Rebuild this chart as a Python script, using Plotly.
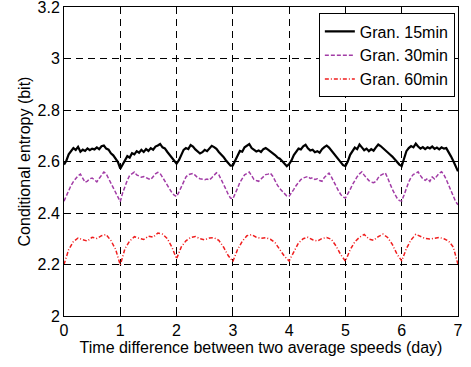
import numpy as np
import plotly.graph_objects as go

# Conditional entropy (bit) vs. time difference (day)
gran15 = [
    2.588, 2.603, 2.628, 2.641, 2.652, 2.645, 2.657, 2.638, 2.646, 2.641, 2.651, 2.644,
    2.650, 2.647, 2.655, 2.648, 2.659, 2.662, 2.650, 2.646, 2.632, 2.624, 2.611, 2.598,
    2.572, 2.588, 2.603, 2.621, 2.615, 2.632, 2.628, 2.640, 2.634, 2.645, 2.637, 2.648,
    2.641, 2.652, 2.646, 2.658, 2.662, 2.668, 2.655, 2.651, 2.638, 2.626, 2.612, 2.601,
    2.592, 2.605, 2.628, 2.645, 2.652, 2.648, 2.664, 2.658, 2.647, 2.639, 2.631, 2.636,
    2.645, 2.640, 2.653, 2.661, 2.656, 2.649, 2.637, 2.629, 2.618, 2.605, 2.596, 2.584,
    2.585, 2.601, 2.622, 2.641, 2.638, 2.655, 2.661, 2.668, 2.652, 2.646, 2.639, 2.643,
    2.637, 2.648, 2.652, 2.646, 2.640, 2.633, 2.625, 2.616, 2.611, 2.602, 2.592, 2.582,
    2.590, 2.604, 2.625, 2.638, 2.650, 2.647, 2.659, 2.665, 2.651, 2.643, 2.646, 2.636,
    2.640, 2.634, 2.648, 2.656, 2.662, 2.654, 2.642, 2.633, 2.620, 2.608, 2.597, 2.586,
    2.582, 2.600, 2.626, 2.641, 2.654, 2.648, 2.666, 2.655, 2.644, 2.650, 2.640, 2.648,
    2.642, 2.655, 2.666, 2.660, 2.651, 2.643, 2.636, 2.627, 2.619, 2.608, 2.596, 2.588,
    2.582, 2.612, 2.640, 2.652, 2.660, 2.655, 2.669, 2.658, 2.650, 2.656, 2.648, 2.655,
    2.651, 2.658, 2.649, 2.654, 2.647, 2.655, 2.650, 2.652, 2.638, 2.620, 2.602, 2.583,
    2.562,
]

# 30-min granularity series, sampled hourly
gran30 = [
    2.446, 2.468, 2.490, 2.507, 2.522, 2.536, 2.545, 2.551, 2.535, 2.519, 2.524, 2.533,
    2.536, 2.527, 2.521, 2.534, 2.548, 2.559, 2.552, 2.535, 2.515, 2.498, 2.478, 2.461,
    2.444, 2.478, 2.505, 2.527, 2.546, 2.552, 2.559, 2.548, 2.545, 2.539, 2.542, 2.536,
    2.533, 2.530, 2.541, 2.552, 2.558, 2.553, 2.539, 2.523, 2.507, 2.491, 2.479, 2.469,
    2.464, 2.481, 2.503, 2.524, 2.540, 2.549, 2.551, 2.554, 2.546, 2.537, 2.533, 2.531,
    2.529, 2.532, 2.528, 2.537, 2.545, 2.556, 2.549, 2.532, 2.513, 2.493, 2.473, 2.458,
    2.455, 2.474, 2.496, 2.519, 2.536, 2.548, 2.553, 2.559, 2.545, 2.530, 2.526, 2.523,
    2.532, 2.541, 2.549, 2.551, 2.555, 2.543, 2.524, 2.508, 2.495, 2.484, 2.473, 2.466,
    2.465, 2.477, 2.492, 2.507, 2.519, 2.530, 2.536, 2.539, 2.542, 2.534, 2.537, 2.530,
    2.533, 2.526, 2.523, 2.538, 2.548, 2.555, 2.540, 2.521, 2.503, 2.487, 2.472, 2.462,
    2.458, 2.473, 2.491, 2.510, 2.527, 2.541, 2.552, 2.560, 2.547, 2.534, 2.526, 2.520,
    2.518, 2.522, 2.537, 2.546, 2.551, 2.556, 2.536, 2.512, 2.492, 2.474, 2.458, 2.448,
    2.447, 2.470, 2.497, 2.521, 2.539, 2.550, 2.554, 2.560, 2.545, 2.533, 2.527, 2.534,
    2.523, 2.540, 2.532, 2.546, 2.555, 2.560, 2.548, 2.530, 2.508, 2.486, 2.462, 2.444,
    2.432,
]

# 60-min granularity series, sampled every 2 hours (12 per day)
gran60 = [
    2.200, 2.258, 2.289, 2.303, 2.296, 2.291, 2.306, 2.301, 2.312, 2.316, 2.293, 2.259,
    2.198, 2.262, 2.291, 2.308, 2.302, 2.297, 2.310, 2.306, 2.322, 2.318, 2.301, 2.268,
    2.222, 2.268, 2.292, 2.305, 2.309, 2.300, 2.296, 2.303, 2.304, 2.294, 2.268, 2.235,
    2.212, 2.258, 2.290, 2.312, 2.316, 2.306, 2.302, 2.304, 2.298, 2.285, 2.258, 2.232,
    2.214, 2.252, 2.284, 2.300, 2.306, 2.296, 2.291, 2.301, 2.305, 2.298, 2.272, 2.238,
    2.213, 2.257, 2.288, 2.306, 2.317, 2.299, 2.294, 2.308, 2.318, 2.305, 2.278, 2.240,
    2.214, 2.262, 2.296, 2.317, 2.310, 2.301, 2.299, 2.303, 2.305, 2.300, 2.291, 2.268,
    2.200,
]

series_names = ["Gran. 15min", "Gran. 30min", "Gran. 60min"]
x_ticks = [0, 1, 2, 3, 4, 5, 6, 7]
y_ticks = [2, 2.2, 2.4, 2.6, 2.8, 3, 3.2]
y_tick_labels = ["2", "2.2", "2.4", "2.6", "2.8", "3", "3.2"]

t15 = np.arange(len(gran15)) / 24.0
t30 = np.arange(len(gran30)) / 24.0
t60 = np.arange(len(gran60)) / 12.0

FONT = "Liberation Sans, Arial, Helvetica, sans-serif"
FS = 16

fig = go.Figure()
fig.add_trace(go.Scatter(x=t15, y=gran15, mode="lines", name=series_names[0],
                         line=dict(color="black", width=2.2)))
fig.add_trace(go.Scatter(x=t30, y=gran30, mode="lines", name=series_names[1],
                         line=dict(color="#a23ca6", width=1.5, dash="4px,2px")))
fig.add_trace(go.Scatter(x=t60, y=gran60, mode="lines", name=series_names[2],
                         line=dict(color="#f01e1e", width=1.5, dash="4px,2px,1px,2px")))

axis_common = dict(
    showline=True, linecolor="black", linewidth=1, mirror="allticks",
    ticks="inside", ticklen=5, tickcolor="black",
    showgrid=True, gridcolor="black", gridwidth=1, griddash="7px,5px",
    zeroline=False, tickfont=dict(family=FONT, size=FS, color="black"),
    automargin=False, ticklabeloverflow="allow",
)

fig.update_xaxes(range=[0, 7], tickvals=x_ticks, ticktext=[str(v) for v in x_ticks],
                 title=dict(text="Time difference between two average speeds (day)",
                            font=dict(family=FONT, size=FS, color="black"), standoff=3),
                 **axis_common)
fig.update_yaxes(range=[2, 3.2], tickvals=y_ticks, ticktext=y_tick_labels,
                 title=dict(text="Conditional entropy (bit)",
                            font=dict(family=FONT, size=FS, color="black"), standoff=2),
                 **axis_common)

fig.update_layout(
    width=471, height=367,
    margin=dict(l=64, r=13, t=7, b=51),
    paper_bgcolor="white", plot_bgcolor="white",
    font=dict(family=FONT, size=FS, color="black"),
    showlegend=True,
    legend=dict(x=0.992, y=0.979, xanchor="right", yanchor="top",
                bgcolor="white", bordercolor="black", borderwidth=1,
                font=dict(family=FONT, size=FS, color="black"),
                tracegroupgap=0, itemwidth=30),
)

fig.write_html("out.html")
